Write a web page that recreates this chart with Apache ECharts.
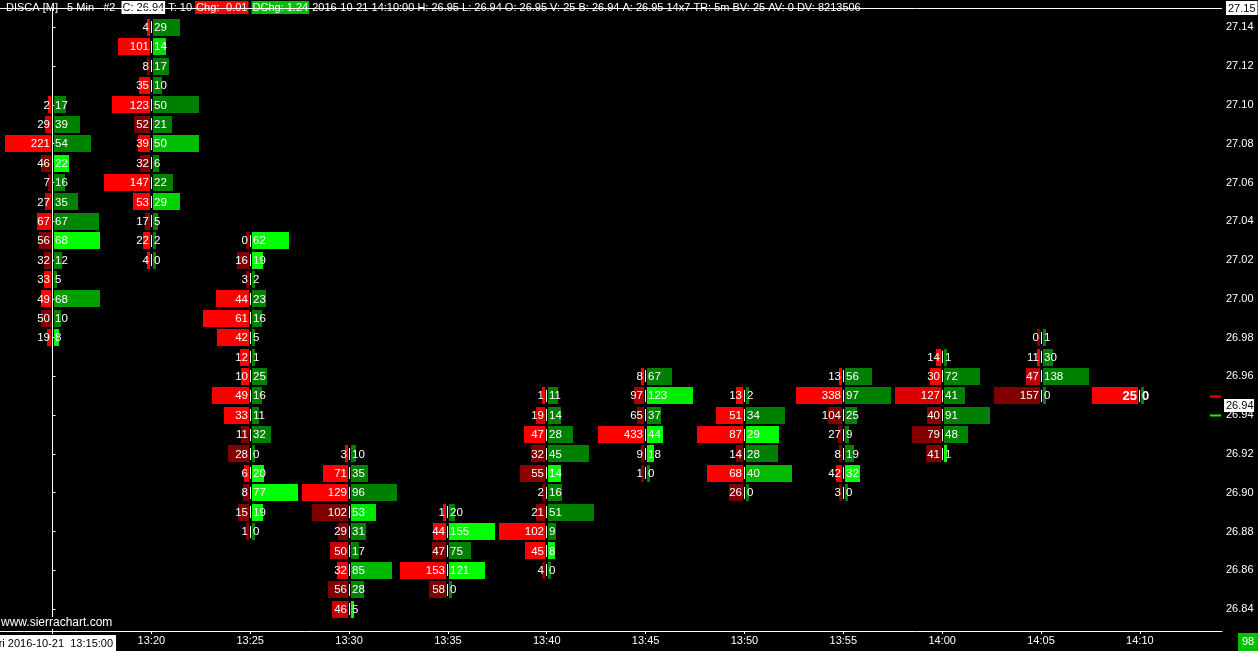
<!DOCTYPE html>
<html><head><meta charset="utf-8">
<style>html,body{margin:0;padding:0;background:#000;overflow:hidden}#c{width:1258px;height:651px}</style>
<script src="https://cdn.jsdelivr.net/npm/echarts@6/dist/echarts.min.js"></script>
</head><body><div id="c"></div>
<script>
// ---------- data ----------
const timeLabels = ['13:15','13:20','13:25','13:30','13:35','13:40','13:45','13:50','13:55','14:00','14:05','14:10'];
const barMinutes = [0,5,10,15,20,25,30,35,40,45,50,55];
const dateLabel = 'Fri 2016-10-21  13:15:00';
// highest price level of each bar (rows go down in 0.01 steps)
const topPrice = [27.10,27.14,27.03,26.92,26.89,26.95,26.96,26.95,26.96,26.97,26.98,26.95];
// bid volume per price level, top to bottom
const bidVolume = [
  [2,29,221,46,7,27,67,56,32,33,49,50,19],
  [4,101,8,35,123,52,39,32,147,53,17,22,4],
  [0,16,3,44,61,42,12,10,49,33,11,28,6,8,15,1],
  [3,71,129,102,29,50,32,56,46],
  [1,44,47,153,58],
  [1,19,47,32,55,2,21,102,45,4],
  [8,97,65,433,9,1],
  [13,51,87,14,68,26],
  [13,338,104,27,8,42,3],
  [14,30,127,40,79,41],
  [0,11,47,157],
  [25]
];
// ask volume per price level, top to bottom
const askVolume = [
  [17,39,54,22,16,35,67,68,12,5,68,10,8],
  [29,14,17,10,50,21,50,6,22,29,5,2,0],
  [62,19,2,23,16,5,1,25,16,11,32,0,20,77,19,0],
  [10,35,96,53,31,17,85,28,5],
  [20,155,75,121,0],
  [11,14,28,45,14,16,51,9,8,0],
  [67,123,37,44,18,0],
  [2,34,29,28,40,0],
  [56,97,25,9,19,32,0],
  [1,72,41,91,48,1],
  [1,30,138,0],
  [0]
];
const priceTicks = [26.84,26.86,26.88,26.90,26.92,26.94,26.96,26.98,27.00,27.02,27.04,27.06,27.08,27.10,27.12,27.14];
const highPrice = 27.15;
const lastPrice = 26.94;
const bestAsk = 26.95;
const bestBid = 26.94;
const headerPlain1 = 'DISCA [M]   5 Min   #2  ';
const headerClose = 'C: 26.94';
const headerTrades = ' T: 10 ';
const headerChg = 'Chg: -0.01';
const headerDChg = 'DChg: 1.24';
const headerRest = ' 2016-10-21 14:10:00 H: 26.95 L: 26.94 O: 26.95 V: 25 B: 26.94 A: 26.95 14x7 TR: 5m BV: 25 AV: 0 DV: 8213506';
const cornerCount = '98';
const watermark = 'www.sierrachart.com';

// ---------- build ----------
const FONT = '"Liberation Sans", Arial, sans-serif';
function shade(vol, diag, isBid){
  let t;
  if (vol <= 0) t = 0;
  else if (diag <= 0) t = 1;
  else t = Math.min(1, Math.max(0, (vol / diag - 1.15) / 0.85));
  const c = Math.round(128 + 127 * t);
  return isBid ? 'rgb(' + c + ',0,0)' : 'rgb(0,' + c + ',0)';
}
const cellData = [], cellInfo = [];
bidVolume.forEach(function(bids, c){
  const asks = askVolume[c];
  const maxB = Math.max.apply(null, bids), maxA = Math.max.apply(null, asks);
  bids.forEach(function(b, r){
    const a = asks[r];
    const price = +(topPrice[c] - r * 0.01).toFixed(2);
    const bidDiag = r > 0 ? asks[r-1] : 0;
    const askDiag = r < bids.length - 1 ? bids[r+1] : 0;
    cellData.push([barMinutes[c], price, b, a]);
    cellInfo.push({bc: shade(b, bidDiag, true), ac: shade(a, askDiag, false),
      bf: maxB ? b / maxB : 0, af: maxA ? a / maxA : 0, cur: c === bidVolume.length - 1});
  });
});

function renderCell(params, api){
  const info = cellInfo[params.dataIndex];
  const pt = api.coord([api.value(0), api.value(1)]);
  const rowH = api.size([0, 0.01])[1];
  const cx = Math.floor(pt[0]);
  const cy = pt[1];
  const h = Math.round(rowH - 2);
  const top = Math.round(cy - h / 2);
  const maxW = 46;
  const bw = Math.max(3, Math.round(info.bf * maxW));
  const aw = Math.max(3, Math.round(info.af * maxW));
  const font = info.cur ? 'bold 13px ' + FONT : '11.5px ' + FONT;
  const b = api.value(2), a = api.value(3);
  return {type: 'group', children: [
    {type: 'rect', shape: {x: cx - 1 - bw, y: top, width: bw, height: h}, style: {fill: info.bc}},
    {type: 'rect', shape: {x: cx + 2, y: top, width: aw, height: h}, style: {fill: info.ac}},
    {type: 'rect', shape: {x: cx, y: Math.round(cy - 6), width: 1, height: 12}, style: {fill: '#ffffff'}},
    {type: 'text', x: cx - 2, y: cy + 0.5, style: {text: String(b), fill: '#ffffff', font: font, align: 'right', verticalAlign: 'middle'}},
    {type: 'text', x: cx + 3, y: cy + 0.5, style: {text: String(a), fill: '#ffffff', font: font, align: 'left', verticalAlign: 'middle'}}
  ]};
}

function renderMarker(params, api){
  const p = api.coord([0, api.value(0)]);
  const y = Math.round(p[1]) + 0.5;
  const right = params.coordSys.x + params.coordSys.width;
  const color = params.dataIndex === 0 ? '#ff0000' : '#00ff00';
  return {type: 'line', shape: {x1: right - 12, y1: y, x2: right - 1, y2: y}, style: {stroke: color, lineWidth: 2}};
}
function renderLast(params, api){
  const p = api.coord([0, api.value(0)]);
  const right = params.coordSys.x + params.coordSys.width;
  const cy = Math.round(p[1]) - 10;
  return {type: 'group', children: [
    {type: 'rect', shape: {x: right + 2, y: cy - 6, width: 30, height: 13}, style: {fill: '#ffffff'}},
    {type: 'text', x: right + 4, y: cy + 0.5, style: {text: api.value(0).toFixed(2), fill: '#000000', font: '11px ' + FONT, align: 'left', verticalAlign: 'middle'}}
  ]};
}

const pxPerMin = 19.77, firstPx = 52.5, plotW = 1222;
const xMin = -firstPx / pxPerMin, xMax = (plotW - firstPx) / pxPerMin;
const tickMinutes = barMinutes.slice();

const chart = echarts.init(document.getElementById('c'), null, {renderer: 'canvas'});
chart.setOption({
  backgroundColor: '#000000',
  animation: false,
  grid: {left: 0, right: 36, top: 8, bottom: 20, containLabel: false, outerBoundsMode: 'none'},
  xAxis: [{
    type: 'value', min: xMin, max: xMax, position: 'bottom',
    axisLine: {show: true, lineStyle: {color: '#ffffff', width: 1}},
    axisTick: {show: true, length: 3, lineStyle: {color: '#ffffff'}, customValues: tickMinutes},
    axisLabel: {show: true, color: '#ffffff', fontSize: 11, fontFamily: FONT, margin: 4,
      customValues: tickMinutes,
      formatter: function(v){ const i = barMinutes.indexOf(Math.round(v)); return i === 0 ? '{d|' + dateLabel + '}' : timeLabels[i]; },
      rich: {d: {backgroundColor: '#ffffff', color: '#000000', fontSize: 11, fontFamily: FONT, padding: [3, 3, 2, 3]}}},
    splitLine: {show: false}
  }],
  yAxis: [{
    type: 'value', min: 26.8287, max: highPrice, position: 'right',
    axisLine: {show: true, lineStyle: {color: '#ffffff', width: 1}},
    axisTick: {show: true, length: 3, lineStyle: {color: '#ffffff'}, customValues: priceTicks.concat([highPrice])},
    axisLabel: {show: true, color: '#ffffff', fontSize: 11, fontFamily: FONT, margin: 4,
      customValues: priceTicks.concat([highPrice]),
      formatter: function(v){ return Math.abs(v - highPrice) < 1e-6 ? '{h|' + v.toFixed(2) + '}' : v.toFixed(2); },
      rich: {h: {backgroundColor: '#ffffff', color: '#000000', fontSize: 11, fontFamily: FONT, padding: [2, 2, 1, 2]}}},
    splitLine: {show: false}
  }],
  series: [
    {type: 'custom', name: 'footprint', renderItem: renderCell, data: cellData, clip: false, silent: true,
      markLine: {silent: true, symbol: 'none', label: {show: false}, lineStyle: {color: '#ffffff', width: 1, type: 'solid'},
        data: [{xAxis: barMinutes[0]}]}},
    {type: 'custom', name: 'bidask', renderItem: renderMarker, data: [[bestAsk], [bestBid]], clip: false, silent: true},
    {type: 'custom', name: 'last', renderItem: renderLast, data: [[lastPrice]], clip: false, silent: true, z: 10}
  ],
  graphic: [
    {type: 'text', left: 6, top: 1, z: 50, style: {
      text: headerPlain1 + '{w|' + headerClose + '}' + headerTrades + '{r|' + headerChg + '}' + ' ' + '{g|' + headerDChg + '}' + headerRest,
      fill: '#ffffff', font: '11px ' + FONT,
      rich: {
        w: {backgroundColor: '#ffffff', fill: '#000000', padding: [1, 1, 1, 1]},
        r: {backgroundColor: '#ff0000', fill: '#ffffff', padding: [1, 1, 1, 1]},
        g: {backgroundColor: '#00c000', fill: '#ffffff', padding: [1, 1, 1, 1]}
      }}},
    {type: 'line', z: 60, shape: {x1: 0, y1: 8.5, x2: 1222, y2: 8.5}, style: {stroke: '#ffffff', lineWidth: 1}},
    {type: 'text', left: 1, top: 617, z: 60, style: {text: watermark, fill: '#ffffff', font: '12px ' + FONT, backgroundColor: '#000000'}},
    {type: 'rect', z: 60, shape: {x: 1238, y: 633, width: 20, height: 18}, style: {fill: '#00c000'}},
    {type: 'text', z: 61, x: 1248, y: 642, style: {text: cornerCount, fill: '#ffffff', font: '11px ' + FONT, align: 'center', verticalAlign: 'middle'}}
  ]
});
</script></body></html>
